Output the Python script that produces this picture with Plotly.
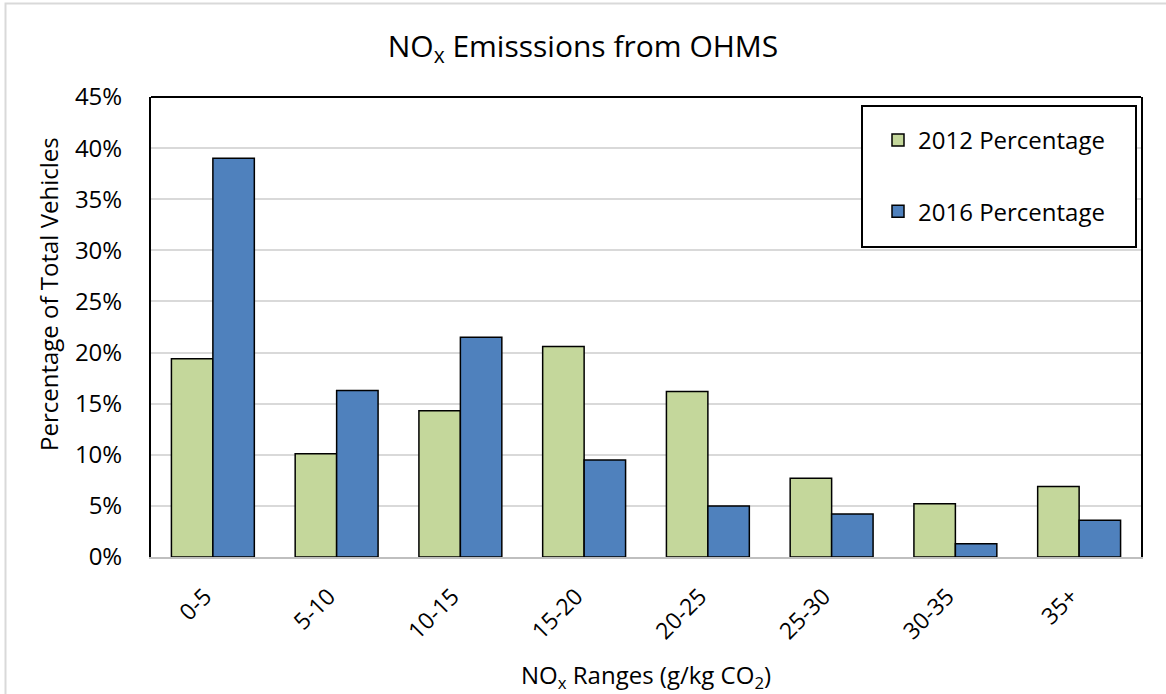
import plotly.graph_objects as go

categories = ["0-5", "5-10", "10-15", "15-20", "20-25", "25-30", "30-35", "35+"]
pct_2012 = [19.4, 10.1, 14.3, 20.6, 16.2, 7.7, 5.2, 6.9]
pct_2016 = [39.0, 16.3, 21.5, 9.5, 5.0, 4.2, 1.3, 3.6]
y_ticks = [0, 5, 10, 15, 20, 25, 30, 35, 40, 45]
y_tick_labels = [f"{v}%" for v in y_ticks]

FONT = "Open Sans, Noto Sans, sans-serif"

fig = go.Figure()
fig.add_trace(go.Bar(
    x=categories, y=pct_2012, name="2012 Percentage", legendgroup="a",
    marker=dict(color="#C4D79B", line=dict(color="black", width=1.5)),
))
fig.add_trace(go.Bar(
    x=categories, y=pct_2016, name="2016 Percentage", legendgroup="b",
    marker=dict(color="#4F81BD", line=dict(color="black", width=1.5)),
))

W, H = 1166, 694
L, R, T, B = 151, 25, 97, 137
pw, ph = W - L - R, H - T - B

def px_x(px):
    return (px - L) / pw

def px_y(py):
    return (H - B - py) / ph

fig.update_layout(
    width=W, height=H,
    margin=dict(l=L, r=R, t=T, b=B),
    paper_bgcolor="white", plot_bgcolor="white",
    font=dict(family=FONT, color="black", size=24),
    barmode="group", bargap=0.33, bargroupgap=0,
    title=dict(text="NO<sub>x</sub> Emisssions from OHMS", x=0.5, xref="container",
               xanchor="center", y=1 - 46 / H, yref="container", yanchor="middle",
               font=dict(size=30, family=FONT, color="black")),
    xaxis=dict(tickangle=-45, showline=True, linecolor="#BFBFBF", linewidth=2,
               ticks="", showgrid=False, tickfont=dict(size=23), ticklabelstandoff=15,
               ticklabelshift=-8),
    yaxis=dict(range=[0, 45], tickvals=y_ticks, ticktext=y_tick_labels,
               showline=True, linecolor="black", linewidth=2, mirror=True,
               gridcolor="#D9D9D9", gridwidth=2, ticks="", tickfont=dict(size=24),
               ticklabelstandoff=22, zeroline=False),
    showlegend=True,
    legend=dict(x=px_x(878), y=px_y(118), xanchor="left", yanchor="top",
                bgcolor="rgba(0,0,0,0)", borderwidth=0, tracegroupgap=37,
                traceorder="grouped", font=dict(size=24, family=FONT)),
    shapes=[
        # top edge of plot box
        dict(type="line", xref="paper", yref="paper", x0=0, x1=1, y0=1, y1=1,
             line=dict(color="black", width=2), layer="above"),
        # legend box
        dict(type="rect", xref="paper", yref="paper",
             x0=px_x(862), x1=px_x(1136), y0=px_y(247), y1=px_y(106),
             fillcolor="white", line=dict(color="black", width=2), layer="above"),
        # outer chart border
        dict(type="rect", xref="paper", yref="paper",
             x0=px_x(5.5), x1=px_x(1200), y0=px_y(720), y1=px_y(3.5),
             fillcolor="rgba(0,0,0,0)", line=dict(color="#D9D9D9", width=2), layer="below"),
    ],
    annotations=[
        dict(text="Percentage of Total Vehicles", textangle=-90, xref="paper", yref="paper",
             x=px_x(48), y=px_y(294), xanchor="center", yanchor="middle", showarrow=False,
             font=dict(size=24, family=FONT)),
        dict(text="NO<sub>x</sub> Ranges (g/kg CO<sub>2</sub>)", xref="paper", yref="paper",
             x=0.5, y=px_y(676), xanchor="center", yanchor="middle", showarrow=False,
             font=dict(size=24, family=FONT)),
    ],
)

fig.write_html("out.html", config={"displayModeBar": False},
               post_script="document.body.style.margin='0';document.body.style.overflow='hidden';")
